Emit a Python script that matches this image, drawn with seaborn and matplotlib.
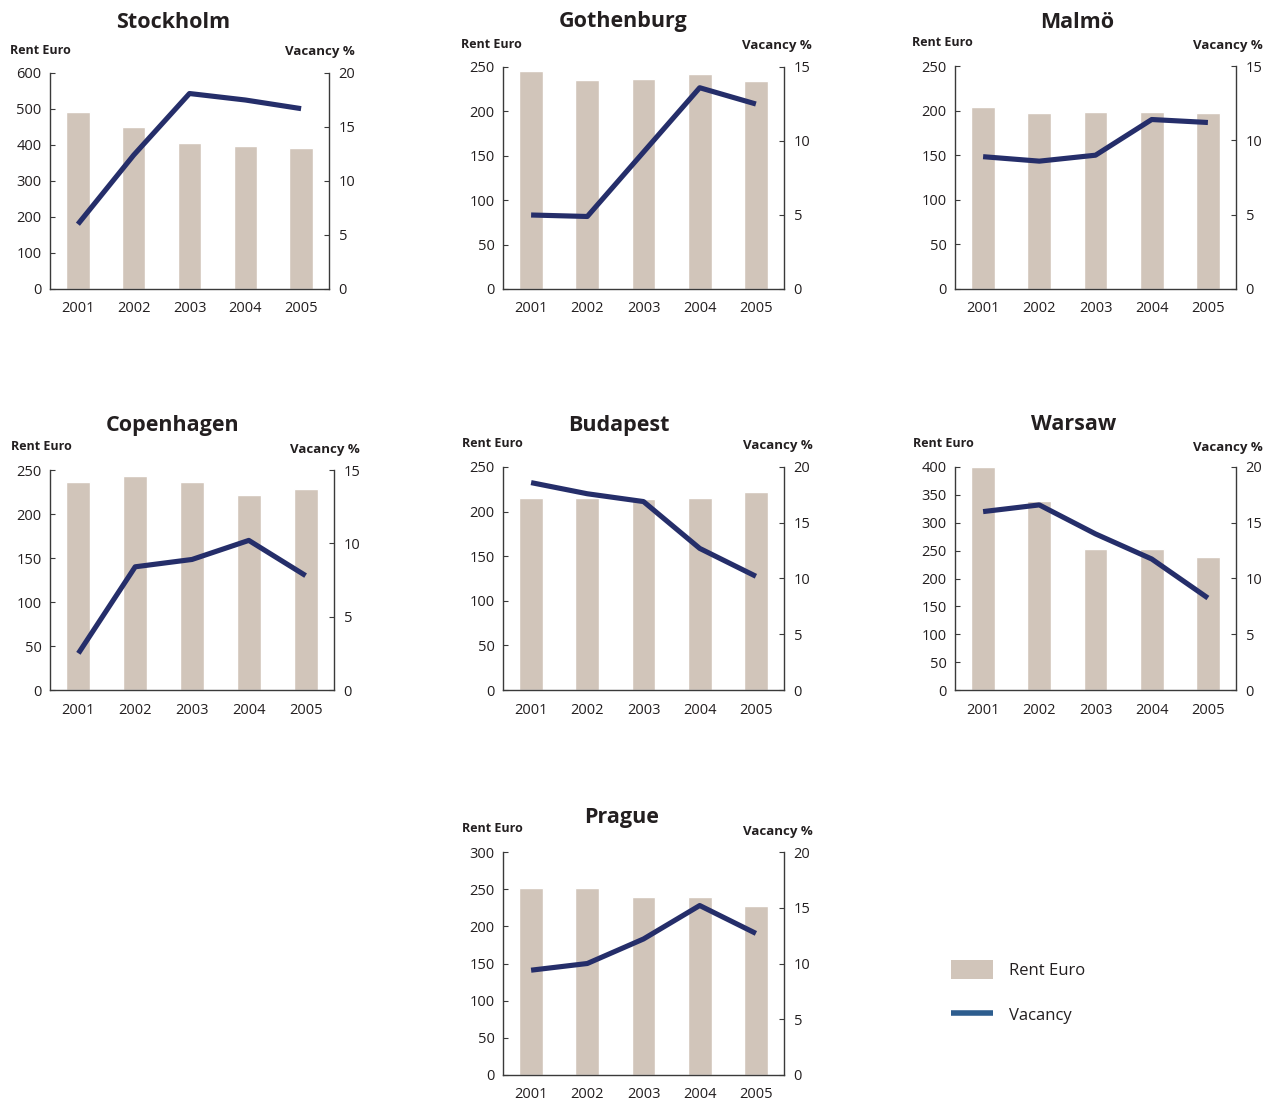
import numpy as np
import pandas as pd
import matplotlib
matplotlib.use("Agg")
import matplotlib.pyplot as plt
import seaborn as sns
from matplotlib.patches import Patch
from matplotlib.lines import Line2D

# ─────────────────────────────────────────────
#  DATA
# ─────────────────────────────────────────────
years = ["2001", "2002", "2003", "2004", "2005"]
cities = ["Stockholm", "Gothenburg", "Malmö", "Copenhagen", "Budapest", "Warsaw", "Prague"]

rent_stockholm  = [492, 450, 405, 397, 392]
rent_gothenburg = [246, 235, 236, 242, 234]
rent_malmo      = [204, 197, 198, 198, 197]
rent_copenhagen = [236, 243, 236, 222, 228]
rent_budapest   = [215, 215, 214, 215, 222]
rent_warsaw     = [400, 339, 253, 253, 239]
rent_prague     = [252, 252, 240, 240, 227]

vac_stockholm  = [6.0, 12.4, 18.1, 17.5, 16.7]
vac_gothenburg = [5.0, 4.9, 9.25, 13.6, 12.5]
vac_malmo      = [8.9, 8.6, 9.0, 11.4, 11.2]
vac_copenhagen = [2.5, 8.4, 8.9, 10.2, 7.8]
vac_budapest   = [18.6, 17.6, 16.9, 12.7, 10.2]
vac_warsaw     = [16.0, 16.6, 14.0, 11.75, 8.25]
vac_prague     = [9.4, 10.0, 12.2, 15.2, 12.7]

rent_max = [600, 250, 250, 250, 250, 400, 300]
rent_step = [100, 50, 50, 50, 50, 50, 50]
vac_max = [20, 15, 15, 15, 20, 20, 20]
vac_step = [5, 5, 5, 5, 5, 5, 5]

rents = [rent_stockholm, rent_gothenburg, rent_malmo, rent_copenhagen,
         rent_budapest, rent_warsaw, rent_prague]
vacs = [vac_stockholm, vac_gothenburg, vac_malmo, vac_copenhagen,
        vac_budapest, vac_warsaw, vac_prague]

# ─────────────────────────────────────────────
#  LAYOUT (pixels in a 1277x1101 canvas)
# ─────────────────────────────────────────────
W, H = 1277, 1101
# axes box: left, right, top, bottom
boxes = [(50, 329, 73, 289), (503, 784, 67, 289), (955, 1236, 66, 289),
         (50, 334, 470, 690), (503, 784, 467, 690), (955, 1236, 467, 690),
         (503, 784, 852, 1075)]
title_xy = [(173, 22), (623, 22), (1077, 22), (173, 425), (619, 425),
            (1074, 425), (622, 818)]
rent_lbl_xy = [(10, 51), (461, 45), (912, 42), (11, 447), (462, 443),
               (913, 443), (462, 829)]
vac_lbl_xy = [(355, 51), (812, 46), (1263, 45), (360, 449), (813, 446),
              (1263, 447), (813, 831)]

BAR_COLOR = "#d1c5ba"
LINE_COLOR = "#252e6a"
LEG_LINE = "#2d5d8e"
TEXT = "#231f20"
SPINE = "#3a3a3a"

sns.set_style("white")
plt.rcParams["font.family"] = ["Open Sans", "DejaVu Sans"]
plt.rcParams["text.color"] = TEXT

fig = plt.figure(figsize=(W / 100, H / 100), dpi=100)


def fx(x):
    return x / W


def fy(y):
    return 1 - y / H


for i, city in enumerate(cities):
    l, r, t, b = boxes[i]
    ax = fig.add_axes([fx(l), fy(b), (r - l) / W, (b - t) / H])
    df = pd.DataFrame({"year": years, "rent": rents[i], "vac": vacs[i],
                       "pos": np.arange(len(years))})

    sns.barplot(data=df, x="year", y="rent", color=BAR_COLOR, width=0.42,
                saturation=1, errorbar=None, ax=ax, zorder=1)
    ax.set_xlim(-0.5, len(years) - 0.5)
    ax.set_ylim(0, rent_max[i])
    ax.set_yticks(np.arange(0, rent_max[i] + 1, rent_step[i]))
    ax.set_xlabel("")
    ax.set_ylabel("")

    ax2 = ax.twinx()
    sns.lineplot(data=df, x="pos", y="vac", color=LINE_COLOR, linewidth=3.7,
                 ax=ax2, solid_capstyle="butt")
    ax2.set_ylim(0, vac_max[i])
    ax2.set_yticks(np.arange(0, vac_max[i] + 1, vac_step[i]))
    ax2.set_xlim(-0.5, len(years) - 0.5)
    ax2.set_xlabel("")
    ax2.set_ylabel("")

    for a in (ax, ax2):
        a.spines["top"].set_visible(False)
        for s in ("left", "right", "bottom"):
            a.spines[s].set_color(SPINE)
            a.spines[s].set_linewidth(1.0)
    ax.spines["right"].set_visible(False)
    ax2.spines["left"].set_visible(False)
    ax2.spines["bottom"].set_visible(False)

    ax.tick_params(axis="y", direction="in", length=3.5, width=0.8,
                   color=SPINE, labelsize=10.5, labelcolor=TEXT, pad=6)
    ax.tick_params(axis="x", length=0, labelsize=10.5, labelcolor=TEXT, pad=9)
    ax2.tick_params(axis="y", direction="in", length=3.5, width=0.8,
                    color=SPINE, labelsize=10.5, labelcolor=TEXT, pad=7)

    fig.text(fx(title_xy[i][0]), fy(title_xy[i][1]), city, ha="center",
             va="center", fontsize=15.5, fontweight="bold", color=TEXT)
    fig.text(fx(rent_lbl_xy[i][0]), fy(rent_lbl_xy[i][1]), "Rent Euro",
             ha="left", va="center", fontsize=9, fontweight="bold", color=TEXT)
    fig.text(fx(vac_lbl_xy[i][0]), fy(vac_lbl_xy[i][1]), "Vacancy %",
             ha="right", va="center", fontsize=9.5, fontweight="bold", color=TEXT)

# ── legend ─────────────────────────────────
handles = [Patch(facecolor=BAR_COLOR, edgecolor="none", label="Rent Euro"),
           Line2D([0], [0], color=LEG_LINE, linewidth=4.0,
                  solid_capstyle="butt", label="Vacancy")]
fig.legend(handles=handles, loc="upper left",
           bbox_to_anchor=(fx(936), fy(945)), frameon=False, fontsize=12,
           handlelength=2.5, handleheight=1.4, labelspacing=1.55,
           handletextpad=1.0, labelcolor=TEXT)

plt.savefig("out.png", dpi=100)
